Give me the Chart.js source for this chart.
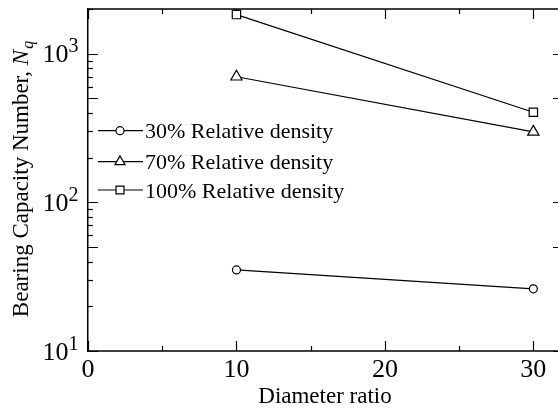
<!DOCTYPE html>
<html><head><meta charset="utf-8">
<script src="https://cdn.jsdelivr.net/npm/chart.js@4.4.0/dist/chart.umd.min.js"></script>
<style>html,body{margin:0;padding:0;overflow:hidden;background:#fff}#wrap{position:relative;width:558px;height:419px}</style>
</head><body><div id="wrap"><canvas id="c"></canvas></div>
<script>
// ---- data ----
const diameterRatio = [10, 30];
const nq30 = [35.1, 26.2];
const nq70 = [700, 298];
const nq100 = [1835, 404];
const seriesLabels = ['30% Relative density', '70% Relative density', '100% Relative density'];
const xTickValues = [0, 10, 20, 30];
const xTickLabels = ['0', '10', '20', '30'];
const yTickValues = [10, 100, 1000];
const yTickExponents = ['1', '2', '3'];
const xTitle = 'Diameter ratio';
const yTitleMain = 'Bearing Capacity Number, ';
const yTitleSym = 'N';
const yTitleSub = 'q';

const SERIF = '"Liberation Serif","Times New Roman",serif';

function pts(ys) { return diameterRatio.map((x, i) => ({ x: x, y: ys[i] })); }

function marker(ctx, style, r, x, y) {
  ctx.save();
  ctx.beginPath();
  if (style === 'circle') {
    ctx.arc(x, y, r, 0, Math.PI * 2);
  } else if (style === 'rect') {
    const s = r * Math.SQRT1_2;
    ctx.rect(x - s, y - s, 2 * s, 2 * s);
  } else if (style === 'triangle') {
    const w = r * Math.sqrt(3) / 2;
    ctx.moveTo(x, y - r);
    ctx.lineTo(x - w, y + r / 2);
    ctx.lineTo(x + w, y + r / 2);
    ctx.closePath();
  }
  ctx.fillStyle = '#fff';
  ctx.fill();
  ctx.lineWidth = 1.2;
  ctx.strokeStyle = '#000';
  ctx.stroke();
  ctx.restore();
}

const decor = {
  id: 'decor',
  beforeDatasetsDraw(chart) {
    const ctx = chart.ctx, a = chart.chartArea;
    const xs = chart.scales.x, ys = chart.scales.y;
    const W = chart.width;
    ctx.save();
    ctx.strokeStyle = '#000';
    ctx.lineWidth = 1.5;
    ctx.beginPath();
    ctx.moveTo(a.left, a.top); ctx.lineTo(W, a.top);
    ctx.moveTo(a.left, a.bottom); ctx.lineTo(W, a.bottom);
    ctx.stroke();
    ctx.lineWidth = 1.2;
    for (let v = 0; v <= 30; v += 5) {
      const px = Math.round(xs.getPixelForValue(v)) + 0.5;
      const len = (v % 10 === 0) ? 10 : 5;
      ctx.beginPath();
      ctx.moveTo(px, a.bottom); ctx.lineTo(px, a.bottom - len);
      ctx.moveTo(px, a.top); ctx.lineTo(px, a.top + len);
      ctx.stroke();
    }
    for (const d of yTickValues) {
      for (let m = 1; m <= 9; m++) {
        const v = d * m;
        if (v < ys.min || v > ys.max) continue;
        const py = Math.round(ys.getPixelForValue(v)) + 0.5;
        const major = (m === 1 || m === 5);
        const len = major ? 10 : 5;
        ctx.beginPath();
        ctx.moveTo(a.left, py); ctx.lineTo(a.left + len, py);
        if (major) { ctx.moveTo(W, py); ctx.lineTo(W - 5, py); }
        ctx.stroke();
      }
    }
    ctx.restore();
  },
  afterDraw(chart) {
    const ctx = chart.ctx, a = chart.chartArea;
    const xs = chart.scales.x, ys = chart.scales.y;
    ctx.save();
    ctx.fillStyle = '#000';
    ctx.font = '26px ' + SERIF;
    ctx.textAlign = 'center';
    ctx.textBaseline = 'alphabetic';
    xTickValues.forEach((v, i) => {
      ctx.fillText(xTickLabels[i], xs.getPixelForValue(v), a.bottom + 26);
    });
    yTickValues.forEach((v, i) => {
      const py = ys.getPixelForValue(v);
      ctx.font = '26px ' + SERIF;
      ctx.textAlign = 'right';
      ctx.fillText('10', 68.5, py + 8.5);
      ctx.font = '20px ' + SERIF;
      ctx.textAlign = 'left';
      ctx.fillText(yTickExponents[i], 68.5, py - 1.5);
    });
    ctx.font = '23px ' + SERIF;
    ctx.textAlign = 'center';
    ctx.fillText(xTitle, 325, 403);
    ctx.save();
    ctx.translate(28, (a.top + a.bottom) / 2 - 1);
    ctx.rotate(-Math.PI / 2);
    ctx.textAlign = 'left';
    ctx.font = '23px ' + SERIF;
    const w1 = ctx.measureText(yTitleMain).width;
    ctx.font = 'italic 23px ' + SERIF;
    const w2 = ctx.measureText(yTitleSym).width;
    ctx.font = 'italic 16px ' + SERIF;
    const w3 = ctx.measureText(yTitleSub).width;
    const x0 = -(w1 + w2 + w3 + 1) / 2;
    ctx.font = '23px ' + SERIF;
    ctx.fillText(yTitleMain, x0, 0);
    ctx.font = 'italic 23px ' + SERIF;
    ctx.fillText(yTitleSym, x0 + w1, 0);
    ctx.font = 'italic 16px ' + SERIF;
    ctx.fillText(yTitleSub, x0 + w1 + w2 + 1, 5);
    ctx.restore();
    const legY = [130.7, 161.7, 190];
    chart.data.datasets.forEach((ds, i) => {
      const y = legY[i];
      ctx.strokeStyle = '#000';
      ctx.lineWidth = 1.2;
      ctx.beginPath();
      ctx.moveTo(98, y); ctx.lineTo(143, y);
      ctx.stroke();
      const r = ds.pointStyle === 'circle' ? 4 : (ds.pointStyle === 'rect' ? 5.6 : 5.8);
      marker(ctx, ds.pointStyle, r, 120, y);
      ctx.fillStyle = '#000';
      ctx.font = '22px ' + SERIF;
      ctx.textAlign = 'left';
      ctx.fillText(ds.label, 145, y + 7.5);
    });
    ctx.restore();
  }
};

const common = {
  borderColor: '#000', borderWidth: 1.2, backgroundColor: '#fff',
  pointBackgroundColor: '#fff', pointBorderColor: '#000', pointBorderWidth: 1.2,
  showLine: true, tension: 0, fill: false
};

new Chart(document.getElementById('c'), {
  type: 'scatter',
  data: {
    datasets: [
      Object.assign({ label: seriesLabels[0], data: pts(nq30), pointStyle: 'circle', pointRadius: 4 }, common),
      Object.assign({ label: seriesLabels[1], data: pts(nq70), pointStyle: 'triangle', pointRadius: 6.5 }, common),
      Object.assign({ label: seriesLabels[2], data: pts(nq100), pointStyle: 'rect', pointRadius: 5.9 }, common)
    ]
  },
  options: {
    responsive: true, maintainAspectRatio: false, animation: false,
    devicePixelRatio: 1,
    layout: { autoPadding: false, padding: { top: 9, right: 0, left: 0, bottom: 0 } },
    plugins: { legend: { display: false }, tooltip: { enabled: false } },
    scales: {
      x: {
        type: 'linear', min: 0, max: 31.66,
        ticks: { display: false },
        grid: { display: false, drawTicks: false },
        border: { display: false },
        afterFit(s) { s.height = 68; }
      },
      y: {
        type: 'logarithmic', min: 10, max: 2000,
        ticks: { display: false },
        grid: { display: false, drawTicks: false },
        border: { display: true, color: '#000', width: 1.5 },
        afterFit(s) { s.width = 88; }
      }
    }
  },
  plugins: [decor]
});
</script>
</body></html>
